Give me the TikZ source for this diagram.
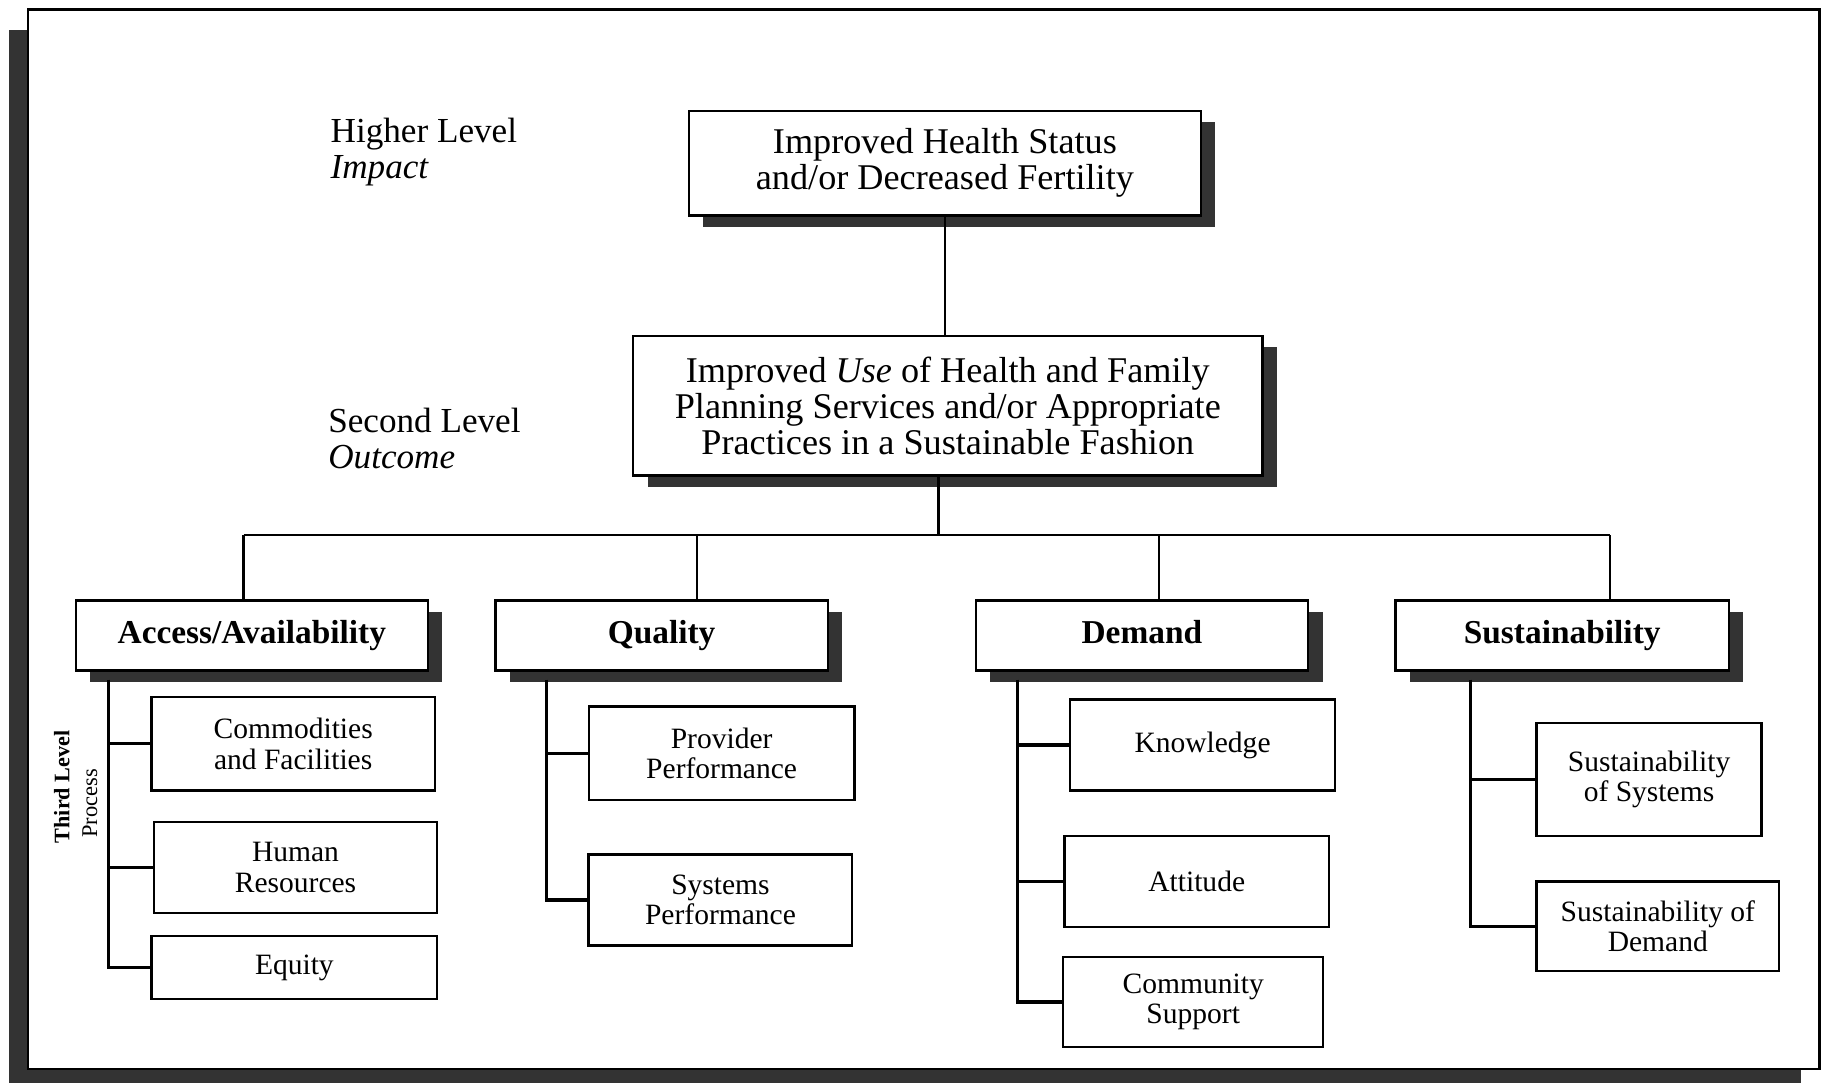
\documentclass[tikz,border=0pt]{standalone}
\usepackage{fontspec}
\setmainfont{Liberation Serif}
\usetikzlibrary{shadows}

\tikzset{
  box/.style={draw, line width=0.7pt, fill=white, align=center, inner sep=0pt},
  shadowbox/.style={box, drop shadow={shadow xshift=1.45mm, shadow yshift=-1.15mm, fill=black!80, opacity=1}},
  bigtext/.style={font=\fontsize{10.3}{10.3}\selectfont},
  head/.style={shadowbox, font=\bfseries\fontsize{9.5}{10}\selectfont, minimum height=6.99mm,
    text height=0.69em, text depth=0.22em},
  leaf/.style={box, font=\fontsize{8.4}{8.6}\selectfont},
  lev/.style={align=left, inner sep=0pt, anchor=west, font=\fontsize{10}{10.25}\selectfont},
  link/.style={line width=0.7pt},
  spine/.style={line width=0.9pt}
}

\begin{document}
\begin{tikzpicture}[x=0.11658mm, y=-0.11658mm]
    \useasboundingbox (0,0) rectangle (1568,929);

    %%%%%%%%%% Cornice %%%%%%%%%%
    \fill[black!80] (8,26) rectangle (1545,929);
    \draw[line width=0.8pt, fill=white] (24,8) rectangle (1561,917);

    %%%%%%%%%% Livelli %%%%%%%%%%
    \node[lev] (higher) at (283,130.5) {Higher Level\\\textit{Impact}};
    \node[lev] (second) at (281,376) {Second Level\\\textit{Outcome}};
    \node[rotate=90, inner sep=0pt, font=\bfseries\fontsize{6.3}{7}\selectfont] (third) at (53,675) {Third Level};
    \node[rotate=90, inner sep=0pt, font=\fontsize{6.4}{7}\selectfont] (process) at (77,689) {Process};

    %%%%%%%%%% Nodi %%%%%%%%%%
    \node[shadowbox, bigtext, minimum width=51.18mm, minimum height=10.49mm] (impact) at (810.5,140)
        {Improved Health Status\\and/or Decreased Fertility};
    \node[shadowbox, bigtext, minimum width=62.95mm, minimum height=13.99mm] (outcome) at (813,348)
        {Improved \textit{Use} of Health and Family\\Planning Services and/or Appropriate\\Practices in a Sustainable Fashion};

    \node[head, minimum width=35.21mm] (access) at (216,545) {Access/Availability};
    \node[head, minimum width=33.23mm] (quality) at (567.5,545) {Quality};
    \node[head, minimum width=33.23mm] (demand) at (979.5,545) {Demand};
    \node[head, minimum width=33.34mm] (sustain) at (1340,545) {Sustainability};

    \node[leaf, minimum width=28.33mm, minimum height=9.33mm] (comm) at (251.5,638) {Commodities\\and Facilities};
    \node[leaf, minimum width=28.33mm, minimum height=9.09mm] (human) at (253.5,744) {Human\\Resources};
    \node[leaf, minimum width=28.56mm, minimum height=6.30mm] (equity) at (252.5,830) {Equity};

    \node[leaf, minimum width=26.58mm, minimum height=9.33mm] (provider) at (619,646) {Provider\\Performance};
    \node[leaf, minimum width=26.35mm, minimum height=9.09mm] (systems) at (618,772) {Systems\\Performance};

    \node[leaf, minimum width=26.46mm, minimum height=9.09mm] (knowledge) at (1031.5,639) {Knowledge};
    \node[leaf, minimum width=26.46mm, minimum height=9.09mm] (attitude) at (1026.5,756) {Attitude};
    \node[leaf, minimum width=26.00mm, minimum height=8.98mm] (community) at (1023.5,859.5) {Community\\Support};

    \node[leaf, minimum width=22.50mm, minimum height=11.31mm] (sussys) at (1414.5,668.5) {Sustainability\\of Systems};
    \node[leaf, minimum width=24.25mm, minimum height=8.98mm] (susdem) at (1422,794.5) {Sustainability of\\Demand};

    %%%%%%%%% Linee %%%%%%%%%
    \draw[link] (impact.south) -- (impact.south |- outcome.north);

    \coordinate (bus) at (805,459);
    \coordinate (b1) at (209,459);
    \coordinate (b2) at (598,459);
    \coordinate (b3) at (994,459);
    \coordinate (b4) at (1381,459);
    \draw[link] (outcome.south -| bus) -- (bus);
    \draw[link] (b1) -- (b4);
    \foreach \h/\b in {access/b1, quality/b2, demand/b3, sustain/b4}
        \draw[link] (\b) -- (\b |- \h.north);

    \coordinate (s1) at (93,583);
    \coordinate (s2) at (469,583);
    \coordinate (s3) at (873,583);
    \coordinate (s4) at (1261,583);
    \draw[spine] (s1) |- (equity.west);
    \draw[spine] (s1 |- comm.west) -- (comm.west);
    \draw[spine] (s1 |- human.west) -- (human.west);
    \draw[spine] (s2) |- (systems.west);
    \draw[spine] (s2 |- provider.west) -- (provider.west);
    \draw[spine] (s3) |- (community.west);
    \draw[spine] (s3 |- knowledge.west) -- (knowledge.west);
    \draw[spine] (s3 |- attitude.west) -- (attitude.west);
    \draw[spine] (s4) |- (susdem.west);
    \draw[spine] (s4 |- sussys.west) -- (sussys.west);
\end{tikzpicture}
\end{document}
